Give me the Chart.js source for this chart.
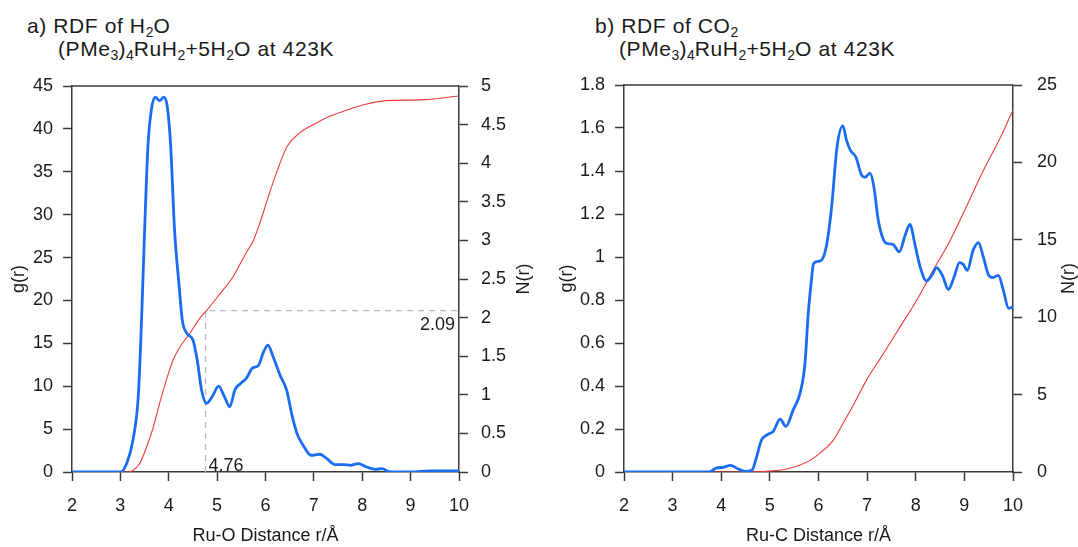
<!DOCTYPE html>
<html>
<head>
<meta charset="utf-8">
<script src="https://cdn.jsdelivr.net/npm/chart.js@4/dist/chart.umd.min.js"></script>
<style>
  html, body { margin: 0; padding: 0; background: #fff; }
  body { width: 1078px; height: 547px; position: relative; overflow: hidden;
         font-family: 'Liberation Sans', Arial, sans-serif; color: #1a1a1a; }
  .title { position: absolute; font-size: 21px; line-height: 23px; letter-spacing: 0.6px; white-space: nowrap; }
  .title .line2 { display: inline-block; margin-left: 31px; }
  sub { font-size: 14px; vertical-align: -4px; line-height: 0; letter-spacing: 0; }
  .panel { position: absolute; top: 0; }
</style>
</head>
<body>
<div class="title" style="left:27px; top:14px;">a) RDF of H<sub>2</sub>O<br><span class="line2">(PMe<sub>3</sub>)<sub>4</sub>RuH<sub>2</sub>+5H<sub>2</sub>O at 423K</span></div>
<div class="title" style="left:595px; top:14px;">b) RDF of CO<sub>2</sub><br><span class="line2" style="margin-left:24px;">(PMe<sub>3</sub>)<sub>4</sub>RuH<sub>2</sub>+5H<sub>2</sub>O at 423K</span></div>
<div class="panel" style="left:0;"><canvas id="rdf-h2o" width="545" height="547"></canvas></div>
<div class="panel" style="left:545px;"><canvas id="rdf-co2" width="533" height="547"></canvas></div>
<script>
// a) Ru-O : g(r) and running coordination number N(r)
const rH2O = [2, 3.0, 3.13, 3.26, 3.37, 3.43, 3.50, 3.57, 3.64, 3.72, 3.81, 3.90, 3.97, 4.04, 4.12, 4.21,
  4.28, 4.37, 4.50, 4.59, 4.68, 4.78, 4.90, 5.03, 5.15, 5.26, 5.37, 5.48, 5.60, 5.73, 5.85, 5.96, 6.05,
  6.16, 6.30, 6.44, 6.54, 6.65, 6.78, 6.94, 7.12, 7.27, 7.44, 7.61, 7.76, 7.92, 8.09, 8.27, 8.41, 8.55,
  9.0, 9.4, 10];
const gH2O = [0, 0, 1.0, 3.7, 8.8, 16.5, 28, 38, 42.2, 43.7, 43.3, 43.7, 42.6, 38, 28.2, 22,
  17.7, 16.2, 15.4, 13, 9.5, 8.0, 8.8, 10, 8.8, 7.6, 9.6, 10.3, 10.9, 12.1, 12.4, 14.0, 14.8,
  13.4, 11.3, 9.5, 6.8, 4.5, 3.1, 1.95, 2.07, 1.55, 0.86, 0.86, 0.78, 0.98, 0.58, 0.31, 0.39, 0.05,
  0.0, 0.12, 0.12];
const rNH2O = [2, 3.16, 3.26, 3.40, 3.54, 3.68, 3.81, 3.95, 4.09, 4.23, 4.43, 4.64, 4.78, 5.06, 5.33,
  5.48, 5.61, 5.75, 5.87, 6.05, 6.20, 6.33, 6.45, 6.70, 7.05, 7.34, 7.69, 8.05, 8.48, 9.19, 10];
const nH2O = [0, 0, 0.02, 0.11, 0.32, 0.58, 0.89, 1.19, 1.45, 1.62, 1.79, 1.99, 2.09, 2.31, 2.53,
  2.70, 2.85, 3.0, 3.2, 3.55, 3.83, 4.05, 4.22, 4.39, 4.52, 4.61, 4.69, 4.76, 4.81, 4.82, 4.87];
const markH2O = [4.76, 2.09]; // first-shell minimum r, N(r) there

// b) Ru-C
const rCO2 = [2, 3.74, 3.91, 4.04, 4.19, 4.35, 4.49, 4.63, 4.73, 4.83, 4.94, 5.07, 5.21, 5.33, 5.48,
  5.62, 5.72, 5.79, 5.84, 5.90, 6.00, 6.08, 6.17, 6.27, 6.38, 6.50, 6.58, 6.66, 6.77, 6.89, 6.96,
  7.06, 7.14, 7.23, 7.34, 7.42, 7.53, 7.66, 7.78, 7.88, 7.98, 8.09, 8.22, 8.33, 8.43, 8.56, 8.67,
  8.79, 8.90, 8.98, 9.06, 9.18, 9.29, 9.39, 9.50, 9.59, 9.70, 9.80, 9.91, 10];
const gCO2 = [0, 0, 0.019, 0.022, 0.031, 0.014, 0.003, 0.008, 0.073, 0.15, 0.173, 0.189, 0.246, 0.212, 0.289,
  0.366, 0.50, 0.74, 0.86, 0.97, 0.98, 0.99, 1.06, 1.232, 1.51, 1.61, 1.54, 1.495, 1.464, 1.379, 1.371,
  1.39, 1.325, 1.17, 1.078, 1.062, 1.059, 1.024, 1.10, 1.152, 1.062, 0.954, 0.889, 0.915, 0.951, 0.908, 0.849,
  0.908, 0.974, 0.965, 0.938, 1.031, 1.067, 1.0, 0.915, 0.904, 0.915, 0.846, 0.761, 0.768];
const rNCO2 = [2, 4.6, 5.0, 5.35, 5.62, 5.83, 6.03, 6.31, 6.51, 6.72, 6.99, 7.34, 7.68, 8.02, 8.36,
  8.71, 9.05, 9.39, 9.74, 10];
const nCO2 = [0, 0, 0.06, 0.19, 0.45, 0.75, 1.22, 2.08, 3.16, 4.34, 5.95, 7.67, 9.39, 11.1, 13.04,
  14.97, 17.2, 19.48, 21.6, 23.39];

// tick labels
const rTicks = [2, 3, 4, 5, 6, 7, 8, 9, 10];
const gTicksH2O = [0, 5, 10, 15, 20, 25, 30, 35, 40, 45];
const nTicksH2O = [0, 0.5, 1, 1.5, 2, 2.5, 3, 3.5, 4, 4.5, 5];
const gTicksCO2 = [0, 0.2, 0.4, 0.6, 0.8, 1, 1.2, 1.4, 1.6, 1.8];
const nTicksCO2 = [0, 5, 10, 15, 20, 25];

const FONT = "'Liberation Sans', Arial, sans-serif";
const AXIS = "#3a3a3a";
const BLUE = "#1a6cf0";
const RED = "#ee3b3b";

Chart.defaults.font.family = FONT;
Chart.defaults.font.size = 18;
Chart.defaults.color = "#1a1a1a";

const toPoints = (xs, ys) => xs.map((x, i) => ({ x: x, y: ys[i] }));
const fixTicks = (list) => (scale) => {
  scale.ticks = list.map((v) => ({ value: v }));
};

// top edge of the box
const frameTop = {
  id: "frameTop",
  afterDraw(chart) {
    const { ctx, chartArea: a } = chart;
    ctx.save();
    ctx.strokeStyle = AXIS;
    ctx.lineWidth = 1.5;
    ctx.beginPath();
    ctx.moveTo(a.left, a.top);
    ctx.lineTo(a.right, a.top);
    ctx.stroke();
    ctx.restore();
  },
};

// N(r) on the right, reading upwards like g(r)
const rightTitle = {
  id: "rightTitle",
  afterDraw(chart, args, opts) {
    const { ctx, chartArea: a } = chart;
    ctx.save();
    ctx.translate(a.right + opts.offset, (a.top + a.bottom) / 2);
    ctx.rotate(-Math.PI / 2);
    ctx.font = "18px " + FONT;
    ctx.fillStyle = "#1a1a1a";
    ctx.textAlign = "center";
    ctx.textBaseline = "middle";
    ctx.fillText(opts.text, 0, 0);
    ctx.restore();
  },
};

// numbers next to the dashed guide
const markLabels = {
  id: "markLabels",
  afterDraw(chart, args, opts) {
    if (!opts.mark) return;
    const { ctx, chartArea: a, scales } = chart;
    const [r, n] = opts.mark;
    const px = scales.x.getPixelForValue(r);
    const py = scales.y1.getPixelForValue(n);
    ctx.save();
    ctx.font = "18px " + FONT;
    ctx.fillStyle = "#1a1a1a";
    ctx.textBaseline = "alphabetic";
    ctx.textAlign = "left";
    ctx.fillText(r.toFixed(2), px + 3, a.bottom - 1);
    ctx.textAlign = "right";
    ctx.fillText(n.toFixed(2), a.right - 4, py + 19);
    ctx.restore();
  },
};

const drawRdf = (id, cfg) => {
  const canvas = document.getElementById(id);
  const datasets = [
    {
      data: toPoints(cfg.r, cfg.g),
      yAxisID: "y",
      borderColor: BLUE,
      borderWidth: 2.8,
      cubicInterpolationMode: "monotone",
    },
    {
      data: toPoints(cfg.rN, cfg.n),
      yAxisID: "y1",
      borderColor: RED,
      borderWidth: 1.1,
      cubicInterpolationMode: "monotone",
    },
  ];
  if (cfg.mark) {
    datasets.push({
      data: [
        { x: cfg.mark[0], y: 0 },
        { x: cfg.mark[0], y: cfg.mark[1] },
        { x: rTicks[rTicks.length - 1], y: cfg.mark[1] },
      ],
      yAxisID: "y1",
      borderColor: "#b8b8b8",
      borderWidth: 1.3,
      borderDash: [6, 5],
      tension: 0,
    });
  }
  const tickGrid = {
    display: true,
    drawOnChartArea: false,
    drawTicks: true,
    tickLength: 9,
    color: AXIS,
    tickWidth: 1.5,
  };
  new Chart(canvas, {
    type: "line",
    data: { datasets: datasets },
    options: {
      responsive: false,
      animation: false,
      elements: { point: { radius: 0 } },
      layout: { padding: { top: cfg.top, left: 0, right: 0, bottom: 0 } },
      plugins: {
        legend: { display: false },
        tooltip: { enabled: false },
        rightTitle: { text: "N(r)", offset: cfg.nTitleOffset },
        markLabels: { mark: cfg.mark },
      },
      scales: {
        x: {
          type: "linear",
          min: 2,
          max: 10,
          afterBuildTicks: fixTicks(rTicks),
          afterFit: (s) => { s.height = 547 - cfg.bottom; },
          grid: tickGrid,
          border: { color: AXIS, width: 1.5 },
          ticks: { padding: 14, callback: (v) => String(v) },
          title: { display: true, text: cfg.xTitle, padding: 0 },
        },
        y: {
          position: "left",
          min: 0,
          max: cfg.gTicks[cfg.gTicks.length - 1],
          afterBuildTicks: fixTicks(cfg.gTicks),
          afterFit: (s) => { s.width = cfg.left; },
          grid: tickGrid,
          border: { color: AXIS, width: 1.5 },
          ticks: { padding: 10, callback: (v) => String(v) },
          title: { display: true, text: "g(r)", padding: { top: cfg.gTitlePad, bottom: 0 } },
        },
        y1: {
          position: "right",
          min: 0,
          max: cfg.nTicks[cfg.nTicks.length - 1],
          afterBuildTicks: fixTicks(cfg.nTicks),
          afterFit: (s) => { s.width = canvas.width - cfg.right; },
          grid: tickGrid,
          border: { color: AXIS, width: 1.5 },
          ticks: { padding: cfg.nTickPad, callback: (v) => String(v) },
        },
      },
    },
    plugins: [frameTop, rightTitle, markLabels],
  });
};

drawRdf("rdf-h2o", {
  r: rH2O, g: gH2O, rN: rNH2O, n: nH2O, mark: markH2O,
  gTicks: gTicksH2O, nTicks: nTicksH2O, xTitle: "Ru-O Distance r/Å",
  left: 72, right: 459, top: 86, bottom: 472,
  gTitlePad: 8, nTickPad: 13, nTitleOffset: 65,
});

drawRdf("rdf-co2", {
  r: rCO2, g: gCO2, rN: rNCO2, n: nCO2, mark: null,
  gTicks: gTicksCO2, nTicks: nTicksCO2, xTitle: "Ru-C Distance r/Å",
  left: 79, right: 468, top: 85, bottom: 472,
  gTitlePad: 11, nTickPad: 15, nTitleOffset: 56,
});
</script>
</body>
</html>
